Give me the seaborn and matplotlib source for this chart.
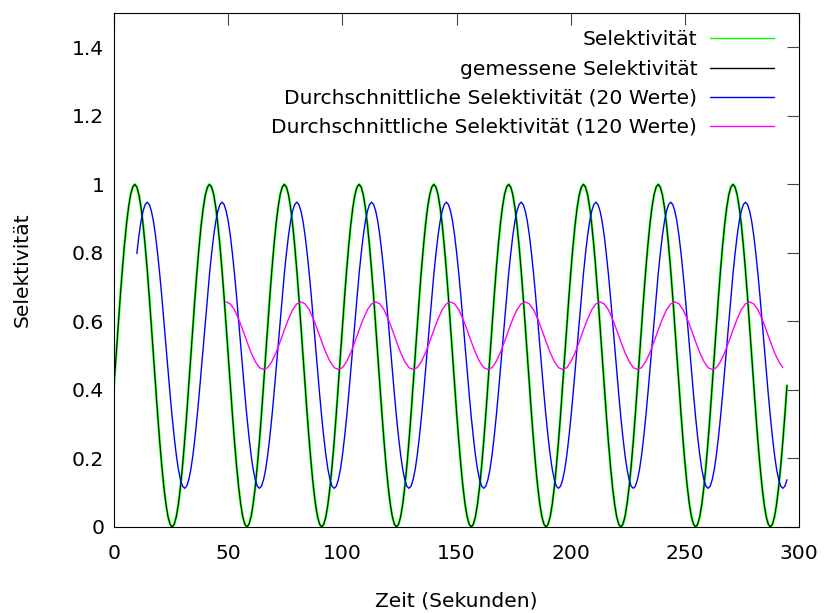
import numpy as np
import pandas as pd
import matplotlib
matplotlib.use("Agg")
import matplotlib.pyplot as plt
import seaborn as sns

# ---- data ----
dt = 0.9097  # spacing of the samples in seconds

# Selektivität (the measured values follow the same curve), samples from t = 0
selektivitaet = [
    .413, .500, .587, .671, .750, .821, .883, .933, .970, .992, 1.000, .992, .970, .933, .883, .821, .750, .671, .587, .500, .413, .329, .250, .179, .117, .067, .030, .008, .000, .008, .030, .067, .117, .179, .250, .329,
    .413, .500, .587, .671, .750, .821, .883, .933, .970, .992, 1.000, .992, .970, .933, .883, .821, .750, .671, .587, .500, .413, .329, .250, .179, .117, .067, .030, .008, .000, .008, .030, .067, .117, .179, .250, .329,
    .413, .500, .587, .671, .750, .821, .883, .933, .970, .992, 1.000, .992, .970, .933, .883, .821, .750, .671, .587, .500, .413, .329, .250, .179, .117, .067, .030, .008, .000, .008, .030, .067, .117, .179, .250, .329,
    .413, .500, .587, .671, .750, .821, .883, .933, .970, .992, 1.000, .992, .970, .933, .883, .821, .750, .671, .587, .500, .413, .329, .250, .179, .117, .067, .030, .008, .000, .008, .030, .067, .117, .179, .250, .329,
    .413, .500, .587, .671, .750, .821, .883, .933, .970, .992, 1.000, .992, .970, .933, .883, .821, .750, .671, .587, .500, .413, .329, .250, .179, .117, .067, .030, .008, .000, .008, .030, .067, .117, .179, .250, .329,
    .413, .500, .587, .671, .750, .821, .883, .933, .970, .992, 1.000, .992, .970, .933, .883, .821, .750, .671, .587, .500, .413, .329, .250, .179, .117, .067, .030, .008, .000, .008, .030, .067, .117, .179, .250, .329,
    .413, .500, .587, .671, .750, .821, .883, .933, .970, .992, 1.000, .992, .970, .933, .883, .821, .750, .671, .587, .500, .413, .329, .250, .179, .117, .067, .030, .008, .000, .008, .030, .067, .117, .179, .250, .329,
    .413, .500, .587, .671, .750, .821, .883, .933, .970, .992, 1.000, .992, .970, .933, .883, .821, .750, .671, .587, .500, .413, .329, .250, .179, .117, .067, .030, .008, .000, .008, .030, .067, .117, .179, .250, .329,
    .413, .500, .587, .671, .750, .821, .883, .933, .970, .992, 1.000, .992, .970, .933, .883, .821, .750, .671, .587, .500, .413, .329, .250, .179, .117, .067, .030, .008, .000, .008, .030, .067, .117, .179, .250, .329,
    .413,
]

# Durchschnitt über 20 Werte, first sample index 11
avg20_start = 11
durchschnitt_20 = [
    .798, .850, .892, .922, .941, .948, .941, .922, .892, .850, .798, .739, .673, .603, .530, .458, .387, .321, .262, .210, .168, .138, .119, .113, .119, .138, .168, .210, .262, .321, .387, .458, .530, .603, .673, .739,
    .798, .850, .892, .922, .941, .948, .941, .922, .892, .850, .798, .739, .673, .603, .530, .458, .387, .321, .262, .210, .168, .138, .119, .113, .119, .138, .168, .210, .262, .321, .387, .458, .530, .603, .673, .739,
    .798, .850, .892, .922, .941, .948, .941, .922, .892, .850, .798, .739, .673, .603, .530, .458, .387, .321, .262, .210, .168, .138, .119, .113, .119, .138, .168, .210, .262, .321, .387, .458, .530, .603, .673, .739,
    .798, .850, .892, .922, .941, .948, .941, .922, .892, .850, .798, .739, .673, .603, .530, .458, .387, .321, .262, .210, .168, .138, .119, .113, .119, .138, .168, .210, .262, .321, .387, .458, .530, .603, .673, .739,
    .798, .850, .892, .922, .941, .948, .941, .922, .892, .850, .798, .739, .673, .603, .530, .458, .387, .321, .262, .210, .168, .138, .119, .113, .119, .138, .168, .210, .262, .321, .387, .458, .530, .603, .673, .739,
    .798, .850, .892, .922, .941, .948, .941, .922, .892, .850, .798, .739, .673, .603, .530, .458, .387, .321, .262, .210, .168, .138, .119, .113, .119, .138, .168, .210, .262, .321, .387, .458, .530, .603, .673, .739,
    .798, .850, .892, .922, .941, .948, .941, .922, .892, .850, .798, .739, .673, .603, .530, .458, .387, .321, .262, .210, .168, .138, .119, .113, .119, .138, .168, .210, .262, .321, .387, .458, .530, .603, .673, .739,
    .798, .850, .892, .922, .941, .948, .941, .922, .892, .850, .798, .739, .673, .603, .530, .458, .387, .321, .262, .210, .168, .138, .119, .113, .119, .138, .168, .210, .262, .321, .387, .458, .530, .603, .673, .739,
    .798, .850, .892, .922, .941, .948, .941, .922, .892, .850, .798, .739, .673, .603, .530, .458, .387, .321, .262, .210, .168, .138, .119, .113, .119, .138,
]

# Durchschnitt über 120 Werte, first sample index 54, every second sample
avg120_start = 54
avg120_every = 2
durchschnitt_120 = [
    .657, .651, .634, .607, .575, .541, .509, .483, .465, .460, .465, .483, .509, .541, .575, .607, .634, .651,
    .657, .651, .634, .607, .575, .541, .509, .483, .465, .460, .465, .483, .509, .541, .575, .607, .634, .651,
    .657, .651, .634, .607, .575, .541, .509, .483, .465, .460, .465, .483, .509, .541, .575, .607, .634, .651,
    .657, .651, .634, .607, .575, .541, .509, .483, .465, .460, .465, .483, .509, .541, .575, .607, .634, .651,
    .657, .651, .634, .607, .575, .541, .509, .483, .465, .460, .465, .483, .509, .541, .575, .607, .634, .651,
    .657, .651, .634, .607, .575, .541, .509, .483, .465, .460, .465, .483, .509, .541, .575, .607, .634, .651,
    .657, .651, .634, .607, .575, .541, .509, .483, .465, .460, .465, .483, .509, .541, .575, .607, .634, .651,
    .657, .651, .634, .607, .575, .541, .509, .483, .465,
]

series_labels = [
    "Selektivität",
    "gemessene Selektivität",
    "Durchschnittliche Selektivität (20 Werte)",
    "Durchschnittliche Selektivität (120 Werte)",
]
series_colors = ["#00ff00", "#000000", "#0000ff", "#ff00ff"]
x_ticks = [0, 50, 100, 150, 200, 250, 300]
y_ticks = [0, 0.2, 0.4, 0.6, 0.8, 1.0, 1.2, 1.4]
y_tick_labels = ["0", "0.2", "0.4", "0.6", "0.8", "1", "1.2", "1.4"]
x_title = "Zeit (Sekunden)"
y_title = "Selektivität"

# ---- build tables ----
df_sel = pd.DataFrame({"t": np.arange(len(selektivitaet)) * dt, "v": selektivitaet})
df_20 = pd.DataFrame({"t": (avg20_start + np.arange(len(durchschnitt_20))) * dt, "v": durchschnitt_20})
df_120 = pd.DataFrame({"t": (avg120_start + avg120_every * np.arange(len(durchschnitt_120))) * dt,
                       "v": durchschnitt_120})

sns.set_theme(style="white")
plt.rcParams["font.family"] = ["DejaVu Sans"]
plt.rcParams["text.color"] = "black"
plt.rcParams["axes.labelcolor"] = "black"

FS = 14.6
fig = plt.figure(figsize=(8.25, 6.13), dpi=100)
ax = fig.add_axes([114 / 825, 1 - 527 / 613, 685 / 825, 514 / 613])

sns.lineplot(data=df_sel, x="t", y="v", ax=ax, color=series_colors[0], lw=1.7,
             label=series_labels[0], estimator=None, sort=False)
sns.lineplot(data=df_sel, x="t", y="v", ax=ax, color=series_colors[1], lw=0.7,
             label=series_labels[1], estimator=None, sort=False)
sns.lineplot(data=df_20, x="t", y="v", ax=ax, color=series_colors[2], lw=1.0,
             label=series_labels[2], estimator=None, sort=False)
sns.lineplot(data=df_120, x="t", y="v", ax=ax, color=series_colors[3], lw=1.0,
             label=series_labels[3], estimator=None, sort=False)

ax.set_xlim(0, 300)
ax.set_ylim(0, 1.5)
ax.set_xticks(x_ticks)
ax.set_xticklabels([str(v) for v in x_ticks])
ax.set_yticks(y_ticks)
ax.set_yticklabels(y_tick_labels)
ax.tick_params(direction="in", length=8.5, width=0.8, color="#444444",
               top=True, right=True, labelsize=FS, labelcolor="black")
ax.tick_params(axis="x", pad=12.5)
ax.tick_params(axis="y", pad=7)
for s in ax.spines.values():
    s.set_visible(True)
    s.set_color("black")
    s.set_linewidth(0.8)

ax.set_xlabel(x_title, fontsize=FS, labelpad=20)
ax.set_ylabel(y_title, fontsize=FS, labelpad=29)

leg = ax.legend(loc="upper right", bbox_to_anchor=(0.9635, 0.966), frameon=False,
                markerfirst=False, fontsize=FS, handlelength=3.15, handletextpad=0.64,
                labelspacing=0.5, borderaxespad=0, borderpad=0)
for line in leg.get_lines():
    line.set_linewidth(1.0)

fig.savefig("out.png", dpi=100)
